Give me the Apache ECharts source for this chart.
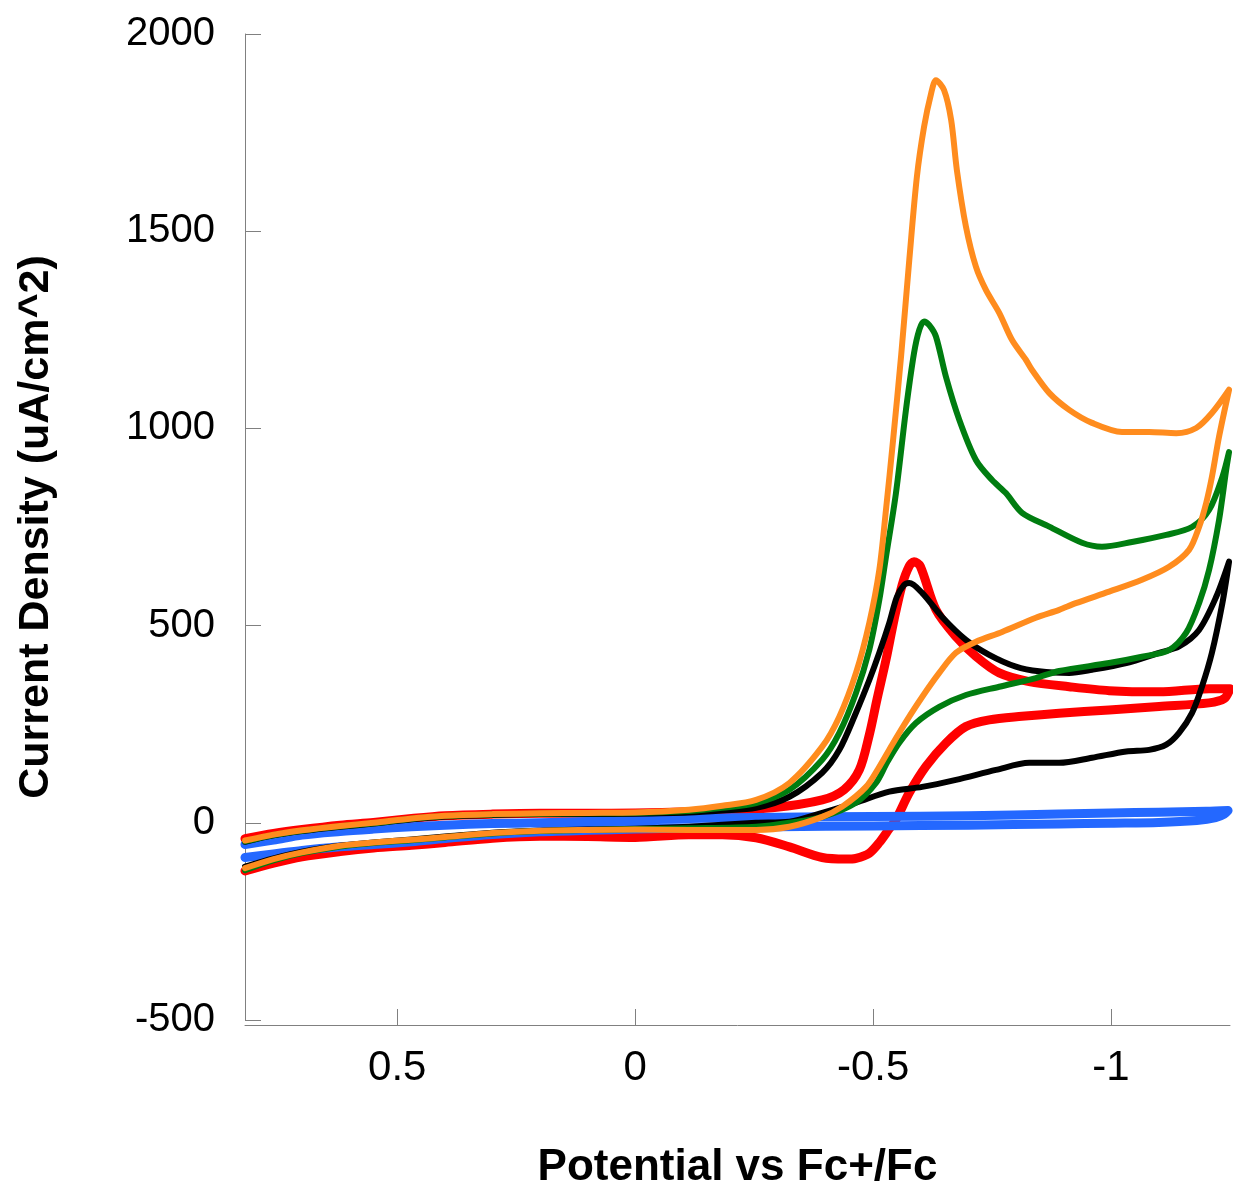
<!DOCTYPE html>
<html>
<head>
<meta charset="utf-8">
<title>Cyclic voltammograms</title>
<script src="https://cdn.jsdelivr.net/npm/echarts@6/dist/echarts.min.js"></script>
<style>
  html, body { margin: 0; padding: 0; background: #ffffff; }
  #chart { width: 1233px; height: 1185px; }
</style>
</head>
<body>
<div id="chart"></div>
<script>
// Potential (V vs Fc+/Fc) and current density (uA/cm^2) pairs for each scan.
// Forward scans run from positive to negative potential, reverse scans back again.

const xTickValues = [-1, -0.5, 0, 0.5];

const blueForward = [[0.82,-55],[0.76,-44],[0.70,-31],[0.62,-22],[0.55,-16],[0.47,-10],[0.40,-6],[0.30,-2],[0.20,0],[0.10,3],[0.00,6],[-0.113,11],[-0.300,14],[-0.500,16],[-0.700,18],[-0.891,22],[-1.000,25],[-1.100,27],[-1.200,29],[-1.246,31]];
const blueReverse = [[-1.238,22],[-1.220,13],[-1.180,6],[-1.100,1],[-1.000,-1],[-0.891,-3],[-0.700,-6],[-0.500,-8],[-0.300,-10],[-0.113,-13],[0.00,-16],[0.10,-19],[0.20,-23],[0.30,-30],[0.40,-40],[0.47,-48],[0.55,-55],[0.62,-61],[0.70,-70],[0.76,-79],[0.82,-88]];

const redForward = [[0.82,-40],[0.76,-27],[0.70,-17],[0.62,-6],[0.55,1],[0.47,11],[0.40,18],[0.30,22],[0.20,24],[0.10,24],[0.00,25],[-0.113,28],[-0.183,31],[-0.288,38],[-0.393,58],[-0.439,84],[-0.471,134],[-0.492,223],[-0.508,312],[-0.527,413],[-0.544,515],[-0.561,603],[-0.576,651],[-0.586,662],[-0.599,651],[-0.632,540],[-0.674,472],[-0.716,422],[-0.765,380],[-0.828,358],[-0.912,345],[-0.996,335],[-1.101,332],[-1.206,340],[-1.250,340]];
const redReverse = [[-1.238,315],[-1.206,304],[-1.101,295],[-0.996,286],[-0.891,278],[-0.813,270],[-0.744,261],[-0.695,244],[-0.653,202],[-0.611,143],[-0.576,76],[-0.548,8],[-0.534,-15],[-0.513,-50],[-0.492,-77],[-0.464,-90],[-0.443,-92],[-0.393,-88],[-0.324,-61],[-0.254,-38],[-0.183,-30],[-0.113,-30],[0.00,-37],[0.10,-35],[0.20,-34],[0.30,-39],[0.40,-50],[0.47,-57],[0.55,-64],[0.62,-73],[0.70,-86],[0.76,-102],[0.82,-122]];

const blackForward = [[0.82,-48],[0.76,-32],[0.70,-21],[0.62,-10],[0.55,-2],[0.47,9],[0.40,16],[0.30,20],[0.20,22],[0.10,22],[0.00,23],[-0.113,26],[-0.183,31],[-0.254,38],[-0.324,66],[-0.393,127],[-0.429,185],[-0.464,279],[-0.492,362],[-0.513,431],[-0.534,507],[-0.550,573],[-0.565,603],[-0.576,608],[-0.603,583],[-0.645,522],[-0.695,464],[-0.744,426],[-0.800,396],[-0.849,384],[-0.912,380],[-0.960,388],[-1.032,405],[-1.101,431],[-1.143,447],[-1.185,489],[-1.221,573],[-1.248,662]];
const blackReverse = [[-1.234,557],[-1.212,431],[-1.191,345],[-1.170,278],[-1.143,228],[-1.116,198],[-1.080,185],[-1.032,181],[-0.960,165],[-0.891,152],[-0.828,152],[-0.758,134],[-0.674,109],[-0.603,91],[-0.534,79],[-0.464,51],[-0.393,25],[-0.324,3],[-0.254,0],[-0.113,-10],[0.00,-15],[0.10,-17],[0.20,-20],[0.30,-25],[0.40,-35],[0.47,-42],[0.55,-50],[0.62,-58],[0.70,-73],[0.76,-90],[0.82,-111]];

const greenForward = [[0.82,-47],[0.76,-31],[0.70,-20],[0.62,-9],[0.55,-1],[0.47,10],[0.40,17],[0.30,21],[0.20,23],[0.10,24],[0.00,25],[-0.113,30],[-0.183,38],[-0.254,50],[-0.324,84],[-0.393,160],[-0.429,228],[-0.464,329],[-0.492,439],[-0.513,565],[-0.527,674],[-0.548,836],[-0.569,1047],[-0.586,1191],[-0.597,1250],[-0.607,1271],[-0.618,1262],[-0.632,1233],[-0.653,1131],[-0.681,1022],[-0.716,920],[-0.750,869],[-0.779,836],[-0.813,786],[-0.870,751],[-0.939,710],[-0.981,700],[-1.044,712],[-1.116,730],[-1.170,750],[-1.206,793],[-1.234,877],[-1.248,940]];
const greenReverse = [[-1.242,895],[-1.227,768],[-1.206,641],[-1.185,557],[-1.158,482],[-1.122,438],[-1.065,421],[-0.996,405],[-0.891,385],[-0.842,367],[-0.765,345],[-0.695,324],[-0.639,294],[-0.590,253],[-0.555,203],[-0.529,152],[-0.506,101],[-0.464,51],[-0.393,15],[-0.324,0],[-0.254,-10],[-0.113,-14],[0.00,-16],[0.10,-18],[0.20,-21],[0.30,-27],[0.40,-37],[0.47,-44],[0.55,-51],[0.62,-60],[0.70,-77],[0.76,-95],[0.82,-120]];

const orangeForward = [[0.82,-45],[0.76,-30],[0.70,-19],[0.62,-8],[0.55,0],[0.47,11],[0.40,18],[0.30,22],[0.20,24],[0.10,25],[0.00,26],[-0.113,33],[-0.183,43],[-0.254,58],[-0.324,101],[-0.393,193],[-0.429,269],[-0.464,380],[-0.492,507],[-0.513,641],[-0.527,793],[-0.542,971],[-0.559,1186],[-0.576,1427],[-0.592,1638],[-0.607,1764],[-0.622,1850],[-0.632,1883],[-0.649,1858],[-0.664,1782],[-0.676,1655],[-0.695,1512],[-0.716,1410],[-0.737,1351],[-0.765,1293],[-0.792,1224],[-0.821,1174],[-0.834,1148],[-0.870,1090],[-0.912,1047],[-0.960,1014],[-1.023,991],[-1.080,991],[-1.137,988],[-1.179,1001],[-1.212,1039],[-1.248,1098]];
const orangeReverse = [[-1.227,979],[-1.212,877],[-1.200,811],[-1.185,750],[-1.164,692],[-1.122,649],[-1.065,616],[-0.996,586],[-0.926,557],[-0.891,540],[-0.842,520],[-0.771,484],[-0.716,459],[-0.674,431],[-0.639,380],[-0.603,319],[-0.569,256],[-0.540,198],[-0.513,142],[-0.485,91],[-0.435,41],[-0.393,15],[-0.324,-10],[-0.254,-18],[-0.113,-18],[0.00,-17],[0.10,-18],[0.20,-20],[0.30,-26],[0.40,-36],[0.47,-43],[0.55,-50],[0.62,-58],[0.70,-75],[0.76,-92],[0.82,-115]];

const FONT = '"Liberation Sans", Arial, Helvetica, sans-serif';
const AXIS_GRAY = '#808080';

function scan(name, color, width, forward, reverse) {
  return {
    name: name,
    type: 'line',
    data: forward.concat(reverse),
    smooth: 0.3,
    showSymbol: false,
    symbol: 'none',
    lineStyle: { color: color, width: width, cap: 'round', join: 'round' },
    emphasis: { disabled: true },
    animation: false
  };
}

const chart = echarts.init(document.getElementById('chart'), null, { renderer: 'canvas' });

chart.setOption({
  backgroundColor: '#ffffff',
  animation: false,
  grid: { left: 245, right: 3, top: 34, bottom: 165, containLabel: false, outerBoundsMode: 'none' },
  xAxis: {
    type: 'value',
    inverse: true,
    min: -1.25,
    max: 0.82,
    offset: 5,
    name: 'Potential vs Fc+/Fc',
    nameLocation: 'middle',
    nameGap: 121,
    nameTextStyle: { fontFamily: FONT, fontSize: 44, fontWeight: 'bold', color: '#000' },
    axisLine: { onZero: false, lineStyle: { color: AXIS_GRAY, width: 1 } },
    axisTick: { inside: true, length: 16, customValues: xTickValues, lineStyle: { color: AXIS_GRAY, width: 1 } },
    axisLabel: { customValues: xTickValues, margin: 22, fontFamily: FONT, fontSize: 42, color: '#000' },
    splitLine: { show: false }
  },
  yAxis: {
    type: 'value',
    min: -500,
    max: 2000,
    interval: 500,
    name: 'Current Density (uA/cm^2)',
    nameLocation: 'middle',
    nameGap: 187,
    nameTextStyle: { fontFamily: FONT, fontSize: 43, fontWeight: 'bold', color: '#000' },
    axisLine: { show: true, onZero: false, lineStyle: { color: AXIS_GRAY, width: 1 } },
    axisTick: { show: true, inside: true, length: 16, lineStyle: { color: AXIS_GRAY, width: 1 } },
    axisLabel: { margin: 30, fontFamily: FONT, fontSize: 40, color: '#000', formatter: function (v) { return String(v); } },
    splitLine: { show: false }
  },
  series: [
    scan('red', '#ff0000', 9, redForward, redReverse),
    scan('blue', '#2468ff', 9, blueForward, blueReverse),
    scan('black', '#000000', 6, blackForward, blackReverse),
    scan('green', '#007d10', 6, greenForward, greenReverse),
    scan('orange', '#ff8c1e', 6, orangeForward, orangeReverse)
  ]
});
</script>
</body>
</html>
